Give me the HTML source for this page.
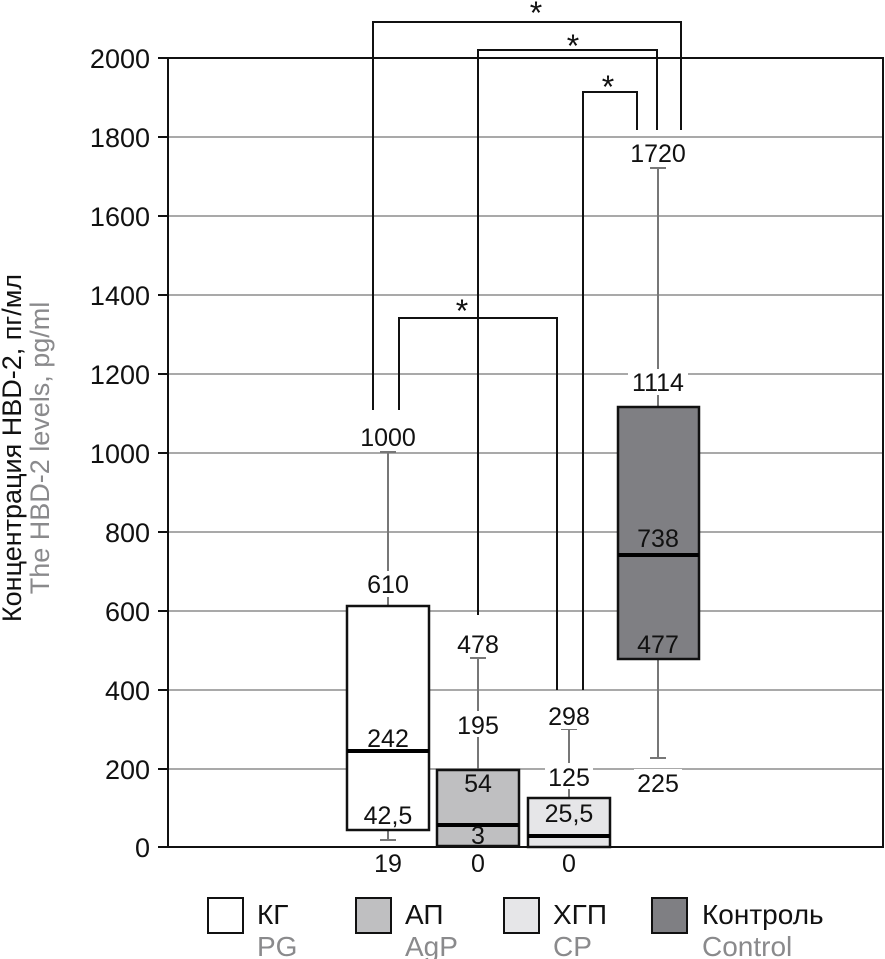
<!DOCTYPE html>
<html><head><meta charset="utf-8"><style>
html,body{margin:0;padding:0;background:#fff;}
svg{display:block;}
text{font-family:"Liberation Sans",sans-serif;font-size:25px;fill:#111;}
.g{fill:#8a8a8c;}
.t{font-size:27px;}
.l{font-size:28px;}
</style></head><body>
<svg width="885" height="959" viewBox="0 0 885 959">
<g stroke="#a9a9a9" stroke-width="2">
<line x1="168" x2="883" y1="137" y2="137"/>
<line x1="168" x2="883" y1="216" y2="216"/>
<line x1="168" x2="883" y1="295" y2="295"/>
<line x1="168" x2="883" y1="374" y2="374"/>
<line x1="168" x2="883" y1="453" y2="453"/>
<line x1="168" x2="883" y1="532" y2="532"/>
<line x1="168" x2="883" y1="611" y2="611"/>
<line x1="168" x2="883" y1="690" y2="690"/>
<line x1="168" x2="883" y1="769" y2="769"/>
</g>
<rect x="168" y="58" width="715" height="789" fill="none" stroke="#111" stroke-width="2"/>
<g stroke="#111" stroke-width="2">
<line x1="158" x2="168" y1="58" y2="58"/><line x1="158" x2="168" y1="137" y2="137"/><line x1="158" x2="168" y1="216" y2="216"/><line x1="158" x2="168" y1="295" y2="295"/><line x1="158" x2="168" y1="374" y2="374"/><line x1="158" x2="168" y1="453" y2="453"/><line x1="158" x2="168" y1="532" y2="532"/><line x1="158" x2="168" y1="611" y2="611"/><line x1="158" x2="168" y1="690" y2="690"/><line x1="158" x2="168" y1="769" y2="769"/><line x1="158" x2="168" y1="847" y2="847"/>
</g>
<g text-anchor="end" class="t">
<text class="t" x="150" y="68">2000</text><text class="t" x="150" y="147">1800</text><text class="t" x="150" y="226">1600</text><text class="t" x="150" y="305">1400</text><text class="t" x="150" y="384">1200</text><text class="t" x="150" y="463">1000</text><text class="t" x="150" y="542">800</text><text class="t" x="150" y="621">600</text><text class="t" x="150" y="700">400</text><text class="t" x="150" y="779">200</text><text class="t" x="150" y="857">0</text>
</g>
<text class="t" transform="translate(21,448) rotate(-90)" text-anchor="middle">Концентрация HBD-2, пг/мл</text>
<text class="t g" transform="translate(49,448) rotate(-90)" text-anchor="middle">The HBD-2 levels, pg/ml</text>
<g fill="none" stroke="#111" stroke-width="2">
<polyline points="373,410 373,22 681,22 681,130"/>
<polyline points="478,615 478,50 657,50 657,130"/>
<polyline points="583,690 583,92 637,92 637,130"/>
<polyline points="399,410 399,318 557,318 557,690"/>
</g>
<g text-anchor="middle">
<text x="536" y="24" style="font-size:32px">*</text>
<text x="573" y="57" style="font-size:32px">*</text>
<text x="608" y="98" style="font-size:32px">*</text>
<text x="462" y="322" style="font-size:32px">*</text>
</g>
<g stroke="#777" stroke-width="2">
<line x1="388" x2="388" y1="452" y2="606"/><line x1="380" x2="396" y1="452" y2="452"/>
<line x1="388" x2="388" y1="830" y2="840"/><line x1="380" x2="396" y1="840" y2="840"/>
<line x1="478" x2="478" y1="658" y2="770"/><line x1="470" x2="486" y1="658" y2="658"/>
<line x1="569" x2="569" y1="729" y2="798"/><line x1="561" x2="577" y1="729" y2="729"/>
<line x1="658" x2="658" y1="168" y2="407"/><line x1="650" x2="666" y1="168" y2="168"/>
<line x1="658" x2="658" y1="659" y2="758"/><line x1="650" x2="666" y1="758" y2="758"/>
</g>
<g stroke="#111" stroke-width="2.5">
<rect x="347" y="606" width="82" height="224" fill="#fff"/>
<rect x="437" y="770" width="82" height="76" fill="#bfbfc1"/>
<rect x="528" y="798" width="82" height="49" fill="#e6e6e8"/>
<rect x="618" y="407" width="81" height="252" fill="#7f7f83"/>
</g>
<g stroke="#000" stroke-width="4">
<line x1="347" x2="429" y1="751" y2="751"/>
<line x1="437" x2="519" y1="825" y2="825"/>
<line x1="528" x2="610" y1="836" y2="836"/>
<line x1="618" x2="699" y1="555" y2="555"/>
</g>
<g text-anchor="middle">
<rect x="358" y="424" width="60" height="26" fill="#fff"/><text x="388" y="446">1000</text>
<rect x="364" y="571" width="48" height="26" fill="#fff"/><text x="388" y="593">610</text>
<text x="388" y="747">242</text>
<text x="388" y="824">42,5</text>
<text x="388" y="872">19</text>
<rect x="454" y="630" width="48" height="26" fill="#fff"/><text x="478" y="653">478</text>
<rect x="454" y="711" width="48" height="26" fill="#fff"/><text x="478" y="734">195</text>
<text x="478" y="792">54</text>
<text x="478" y="844">3</text>
<text x="478" y="872">0</text>
<rect x="545" y="703" width="48" height="26" fill="#fff"/><text x="569" y="725">298</text>
<rect x="545" y="763" width="48" height="26" fill="#fff"/><text x="569" y="786">125</text>
<text x="569" y="822">25,5</text>
<text x="569" y="872">0</text>
<rect x="628" y="139" width="60" height="26" fill="#fff"/><text x="658" y="162">1720</text>
<rect x="628" y="369" width="60" height="26" fill="#fff"/><text x="658" y="391">1114</text>
<text x="658" y="547">738</text>
<text x="658" y="653">477</text>
<rect x="634" y="769" width="48" height="26" fill="#fff"/><text x="658" y="792">225</text>
</g>
<g stroke="#111" stroke-width="2">
<rect x="208" y="898" width="35" height="35" fill="#fff"/>
<rect x="356" y="898" width="35" height="35" fill="#bfbfc1"/>
<rect x="504" y="898" width="35" height="35" fill="#e6e6e8"/>
<rect x="652" y="898" width="35" height="35" fill="#7f7f83"/>
</g>
<text class="l" x="257" y="924">КГ</text><text class="l g" x="257" y="956">PG</text>
<text class="l" x="405" y="924">АП</text><text class="l g" x="405" y="956">AgP</text>
<text class="l" x="553" y="924">ХГП</text><text class="l g" x="553" y="956">CP</text>
<text class="l" x="702" y="924">Контроль</text><text class="l g" x="702" y="956">Control</text>
</svg>
</body></html>
